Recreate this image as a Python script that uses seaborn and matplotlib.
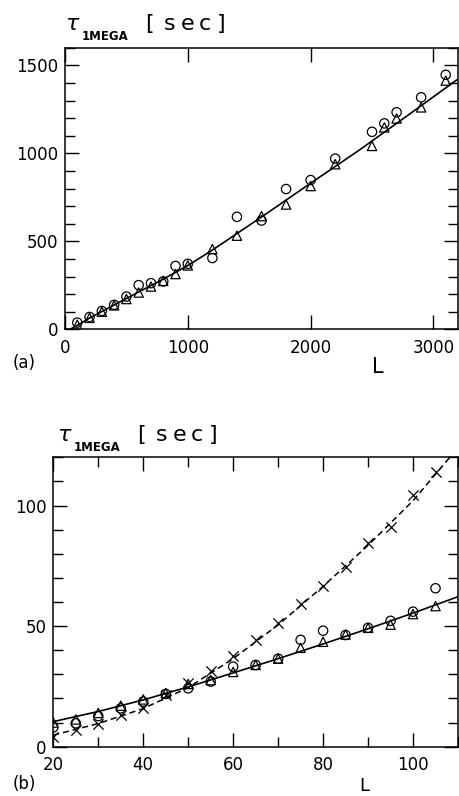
import matplotlib
matplotlib.use("Agg")
import matplotlib.pyplot as plt
from matplotlib.ticker import MultipleLocator
import seaborn as sns

# ---- panel (a): large L ----
L_a = [100, 200, 300, 400, 500, 600, 700, 800, 900, 1000, 1200, 1400,
       1600, 1800, 2000, 2200, 2500, 2600, 2700, 2900, 3100]
circ_a = [38, 70, 104, 139, 186, 251, 262, 272, 360, 372, 405, 639,
          618, 797, 848, 970, 1122, 1170, 1233, 1318, 1446]
tri_a = [26, 65, 100, 136, 172, 209, 243, 275, 314, 363, 456, 532,
         643, 709, 814, 938, 1042, 1147, 1198, 1261, 1413]
# fitted curve
fit_L_a = [40, 100, 200, 400, 600, 800, 1000, 1200, 1600, 2000, 2400, 2800, 3200]
fit_a = [0, 22, 64, 138, 212, 285, 362, 450, 638, 830, 1020, 1220, 1422]

# ---- panel (b): small L ----
L_b = [20, 25, 30, 35, 40, 45, 50, 55, 60, 65, 70, 75, 80, 85, 90, 95, 100, 105]
circ_b = [8.0, 9.7, 12.7, 15.9, 18.7, 21.9, 24.2, 27.0, 33.2, 33.9, 36.5,
          44.3, 48.1, 46.3, 49.3, 52.2, 56.0, 65.7]
tri_b = [10.0, 11.3, 14.0, 17.0, 19.6, 22.2, 26.0, 27.6, 31.0, 33.9, 36.5,
         41.0, 43.5, 46.5, 49.3, 50.6, 55.0, 58.3]
cross_b = [4.2, 6.8, 9.5, 13.0, 16.1, 21.5, 26.3, 31.2, 37.8, 44.1, 51.2,
           59.3, 66.7, 74.7, 84.6, 90.9, 104.4, 114.1]
fit_L_b = [20, 30, 40, 50, 60, 70, 80, 90, 100, 110]
fit_b = [10.4, 14.6, 19.4, 24.8, 30.6, 36.5, 42.6, 48.9, 55.4, 62.2]
dash_b = [4.8, 9.6, 15.8, 24.5, 36.5, 50.5, 66.5, 83.5, 102, 124]

W, H = 459, 796

sns.set_theme(style="ticks")
plt.rcParams['font.family'] = ['DejaVu Sans']
plt.rcParams['axes.edgecolor'] = 'black'
plt.rcParams['axes.linewidth'] = 1.1
plt.rcParams['xtick.color'] = 'black'
plt.rcParams['ytick.color'] = 'black'

fig = plt.figure(figsize=(W / 100, H / 100), dpi=100)
fig.patch.set_facecolor('white')


def px_axes(left, top, right, bottom):
    return fig.add_axes([left / W, 1 - bottom / H, (right - left) / W, (bottom - top) / H])


def ftext(x, y, s, ha='left', **kw):
    fig.text(x / W, 1 - y / H, s, va='baseline', ha=ha, color='black', **kw)


def style_axes(ax):
    ax.set_facecolor('white')
    for sp in ax.spines.values():
        sp.set_visible(True)
        sp.set_color('black')
        sp.set_linewidth(1.1)
    ax.tick_params(which='both', direction='in', top=True, right=True,
                   labelsize=12, width=1.0, colors='black')
    ax.tick_params(which='major', length=10)
    ax.tick_params(which='minor', length=7)
    ax.tick_params(axis='x', pad=7)
    ax.tick_params(axis='y', pad=5)
    ax.set_xlabel('')
    ax.set_ylabel('')


def draw_markers(ax, x, y, marker, size):
    if marker == 'x':
        sns.scatterplot(x=x, y=y, marker='x', s=size, color='black',
                        linewidth=0.9, ax=ax, zorder=3)
    else:
        sns.scatterplot(x=x, y=y, marker=marker, s=size, facecolors='none',
                        edgecolor='black', linewidth=0.9, ax=ax, zorder=3)


# panel (a)
ax1 = px_axes(65, 47.7, 458, 329.3)
sns.lineplot(x=fit_L_a, y=fit_a, color='black', linewidth=1.2, ax=ax1)
draw_markers(ax1, L_a, circ_a, 'o', 45)
draw_markers(ax1, L_a, tri_a, '^', 45)
ax1.set_xlim(0, 3200)
ax1.set_ylim(0, 1600)
ax1.xaxis.set_major_locator(MultipleLocator(1000))
ax1.yaxis.set_major_locator(MultipleLocator(500))
ax1.yaxis.set_minor_locator(MultipleLocator(100))
style_axes(ax1)

# panel (b)
ax2 = px_axes(53.3, 457.3, 458, 746.7)
sns.lineplot(x=fit_L_b, y=fit_b, color='black', linewidth=1.2, ax=ax2)
sns.lineplot(x=fit_L_b, y=dash_b, color='black', linewidth=1.1,
             linestyle=(0, (4, 2.5)), ax=ax2)
draw_markers(ax2, L_b, circ_b, 'o', 45)
draw_markers(ax2, L_b, tri_b, '^', 45)
draw_markers(ax2, L_b, cross_b, 'x', 55)
ax2.set_xlim(20, 110)
ax2.set_ylim(0, 120)
ax2.xaxis.set_major_locator(MultipleLocator(20))
ax2.xaxis.set_minor_locator(MultipleLocator(10))
ax2.yaxis.set_major_locator(MultipleLocator(50))
ax2.yaxis.set_minor_locator(MultipleLocator(10))
style_axes(ax2)

# axis titles: the original font is widely spaced, so set "[sec]" letter by letter
for dy, dx in [(0, 0), (411, -8)]:
    ftext(65 + dx, 30 + dy, r'$\tau$', fontsize=16)
    ftext(82 + dx, 40 + dy, '1MEGA', fontsize=8.5, fontweight='bold')
    for cx, ch in zip([149, 169.5, 187.5, 205, 221], '[sec]'):
        ftext(cx + dx, 30 + dy, ch, ha='center', fontsize=16)

ftext(13, 368, '(a)', fontsize=12)
ftext(372, 373, 'L', fontsize=15)
ftext(13, 789, '(b)', fontsize=12)
ftext(359, 791, 'L', fontsize=13)

fig.savefig('out.png', dpi=100, facecolor='white')
